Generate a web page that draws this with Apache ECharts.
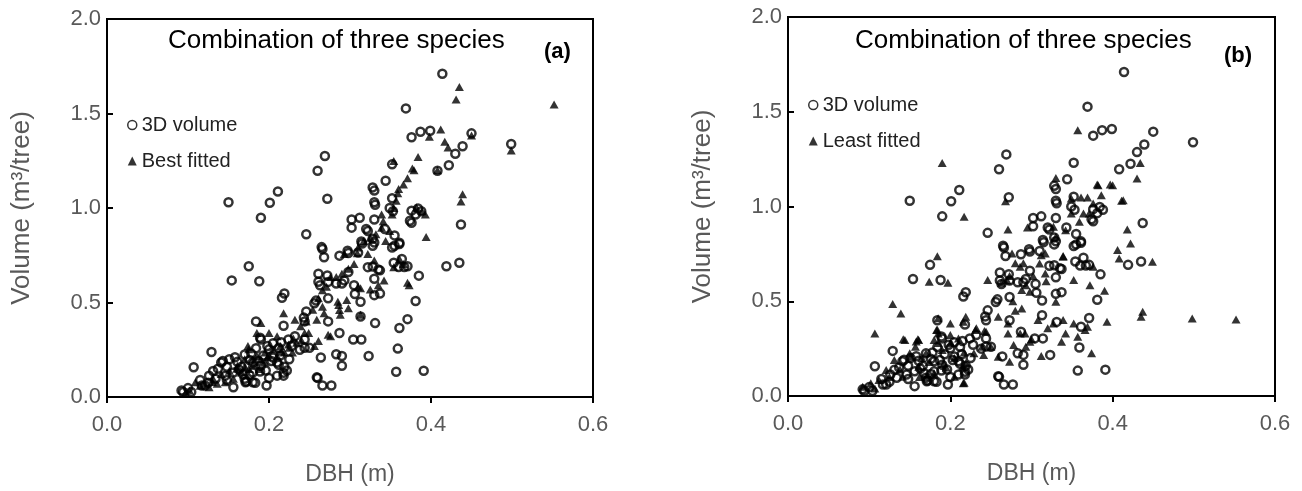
<!DOCTYPE html>
<html>
<head>
<meta charset="utf-8">
<script src="https://cdn.jsdelivr.net/npm/echarts@6/dist/echarts.min.js"></script>
<style>
  html, body { margin: 0; padding: 0; background: #fff; }
  #chart { width: 1302px; height: 491px; }
</style>
</head>
<body>
<div id="chart"></div>
<script>
// [DBH (m), volume (m3/tree)]
const volume3D = [
    [0.414, 1.71], [0.369, 1.527], [0.399, 1.409], [0.387, 1.403], [0.376, 1.374], [0.45, 1.395],
    [0.439, 1.327], [0.43, 1.287], [0.422, 1.226], [0.499, 1.339], [0.408, 1.197], [0.269, 1.275],
    [0.26, 1.197], [0.352, 1.231], [0.344, 1.144], [0.33, 1.092], [0.331, 1.017], [0.352, 1.052],
    [0.353, 0.983], [0.211, 1.087], [0.201, 1.028], [0.15, 1.03], [0.19, 0.948], [0.272, 1.049],
    [0.246, 0.861], [0.302, 0.939], [0.312, 0.948], [0.302, 0.896], [0.33, 0.939], [0.322, 0.878],
    [0.315, 0.812], [0.33, 0.817], [0.437, 0.913], [0.381, 0.965], [0.376, 0.922], [0.388, 0.983],
    [0.361, 0.809], [0.352, 0.791], [0.266, 0.783], [0.268, 0.739], [0.287, 0.748], [0.298, 0.762],
    [0.31, 0.765], [0.175, 0.692], [0.154, 0.617], [0.188, 0.612], [0.435, 0.71], [0.419, 0.692],
    [0.354, 0.71], [0.371, 0.692], [0.364, 0.73], [0.385, 0.642], [0.381, 0.508], [0.371, 0.412],
    [0.361, 0.365], [0.359, 0.256], [0.357, 0.134], [0.391, 0.139], [0.331, 0.391], [0.323, 0.217],
    [0.314, 0.304], [0.313, 0.504], [0.313, 0.426], [0.33, 0.626], [0.337, 0.67], [0.33, 0.539],
    [0.337, 0.548], [0.322, 0.687], [0.298, 0.661], [0.305, 0.591], [0.293, 0.617], [0.283, 0.6],
    [0.273, 0.609], [0.261, 0.652], [0.272, 0.643], [0.273, 0.522], [0.263, 0.591], [0.256, 0.496],
    [0.246, 0.452], [0.244, 0.4], [0.287, 0.339], [0.29, 0.217], [0.29, 0.165], [0.283, 0.226],
    [0.264, 0.209], [0.26, 0.101], [0.266, 0.061], [0.277, 0.061], [0.304, 0.304], [0.244, 0.261],
    [0.219, 0.548], [0.216, 0.525], [0.184, 0.4], [0.218, 0.377], [0.19, 0.304], [0.129, 0.238],
    [0.107, 0.157], [0.094, 0.026], [0.104, 0.026], [0.117, 0.061], [0.126, 0.113], [0.141, 0.183],
    [0.151, 0.2], [0.161, 0.186], [0.156, 0.052], [0.17, 0.096], [0.18, 0.078], [0.197, 0.061],
    [0.21, 0.113], [0.218, 0.113], [0.19, 0.165], [0.18, 0.183], [0.21, 0.183], [0.232, 0.322],
    [0.244, 0.304], [0.146, 0.113], [0.134, 0.096], [0.156, 0.13], [0.2, 0.252], [0.205, 0.209],
    [0.224, 0.304], [0.189, 0.314], [0.184, 0.258], [0.143, 0.191], [0.176, 0.196], [0.219, 0.16],
    [0.243, 0.42], [0.25, 0.26], [0.259, 0.104], [0.189, 0.135], [0.176, 0.116], [0.172, 0.082],
    [0.148, 0.09], [0.131, 0.138], [0.121, 0.061], [0.1, 0.047], [0.092, 0.035], [0.212, 0.26],
    [0.212, 0.17], [0.228, 0.27], [0.238, 0.25], [0.349, 1.0], [0.376, 0.986], [0.384, 0.998],
    [0.374, 0.933], [0.32, 0.889], [0.314, 0.823], [0.328, 0.837], [0.343, 0.889], [0.355, 0.855],
    [0.361, 0.816], [0.355, 0.8], [0.265, 0.793], [0.297, 0.774], [0.328, 0.8], [0.367, 0.688],
    [0.36, 0.688], [0.328, 0.69], [0.328, 1.109], [0.33, 1.03], [0.306, 0.545], [0.29, 0.6],
    [0.261, 0.61], [0.258, 0.51], [0.273, 0.4], [0.183, 0.075], [0.18, 0.13], [0.205, 0.284],
    [0.335, 0.674], [0.17, 0.225], [0.166, 0.16], [0.196, 0.14], [0.203, 0.19], [0.225, 0.2],
    [0.193, 0.22], [0.218, 0.128], [0.171, 0.078], [0.163, 0.145], [0.158, 0.21], [0.198, 0.27],
    [0.214, 0.22], [0.178, 0.23], [0.168, 0.12], [0.2, 0.1], [0.187, 0.19], [0.222, 0.14],
    [0.215, 0.29], [0.148, 0.16], [0.137, 0.15], [0.115, 0.09], [0.125, 0.075]
];

const bestFitted = [
    [0.552, 1.548], [0.435, 1.64], [0.431, 1.574], [0.412, 1.416], [0.398, 1.377], [0.417, 1.351],
    [0.421, 1.32], [0.45, 1.383], [0.499, 1.304], [0.384, 1.27], [0.354, 1.249], [0.379, 1.2],
    [0.371, 1.157], [0.366, 1.125], [0.36, 1.1], [0.359, 1.078], [0.357, 1.038], [0.352, 0.965],
    [0.354, 1.0], [0.439, 1.073], [0.437, 1.035], [0.382, 1.004], [0.389, 0.983], [0.393, 0.965],
    [0.394, 0.847], [0.373, 0.591], [0.366, 0.704], [0.354, 0.687], [0.342, 0.617], [0.335, 0.591],
    [0.325, 0.569], [0.31, 0.583], [0.31, 0.791], [0.322, 0.757], [0.339, 0.965], [0.339, 0.896],
    [0.332, 0.861], [0.325, 0.843], [0.341, 0.93], [0.305, 0.704], [0.298, 0.678], [0.29, 0.652],
    [0.283, 0.635], [0.276, 0.635], [0.271, 0.583], [0.266, 0.565], [0.261, 0.522], [0.266, 0.478],
    [0.268, 0.443], [0.286, 0.487], [0.298, 0.47], [0.288, 0.435], [0.313, 0.435], [0.276, 0.322],
    [0.261, 0.296], [0.244, 0.339], [0.246, 0.4], [0.259, 0.409], [0.254, 0.461], [0.218, 0.443],
    [0.19, 0.391], [0.234, 0.287], [0.224, 0.278], [0.214, 0.27], [0.205, 0.252], [0.195, 0.235],
    [0.185, 0.217], [0.175, 0.252], [0.17, 0.2], [0.161, 0.165], [0.151, 0.139], [0.141, 0.122],
    [0.131, 0.096], [0.121, 0.07], [0.109, 0.078], [0.102, 0.035], [0.097, 0.023], [0.185, 0.339],
    [0.2, 0.339], [0.21, 0.322], [0.219, 0.235], [0.229, 0.235], [0.21, 0.217], [0.195, 0.183],
    [0.188, 0.148], [0.175, 0.148], [0.166, 0.13], [0.156, 0.096], [0.146, 0.078], [0.136, 0.07],
    [0.126, 0.052], [0.232, 0.409], [0.239, 0.374], [0.249, 0.339], [0.256, 0.27], [0.296, 0.513],
    [0.33, 0.722], [0.344, 0.826], [0.349, 0.878], [0.317, 0.826], [0.293, 0.757], [0.371, 0.605],
    [0.361, 0.73], [0.313, 0.575], [0.273, 0.33], [0.23, 0.31], [0.174, 0.27], [0.287, 0.46],
    [0.309, 0.76], [0.285, 0.504], [0.408, 1.2], [0.377, 1.209], [0.18, 0.2], [0.19, 0.2],
    [0.2, 0.22], [0.16, 0.15], [0.17, 0.16], [0.215, 0.24], [0.225, 0.26], [0.24, 0.3],
    [0.115, 0.06], [0.13, 0.08], [0.18, 0.17], [0.198, 0.21]
];

const leastFitted = [
    [0.357, 1.402], [0.19, 1.23], [0.434, 1.23], [0.43, 1.148], [0.4, 1.112], [0.382, 1.112],
    [0.386, 1.06], [0.413, 1.033], [0.349, 1.042], [0.361, 1.047], [0.369, 1.047], [0.376, 1.016],
    [0.371, 0.963], [0.364, 0.963], [0.349, 0.963], [0.268, 1.028], [0.217, 0.946], [0.271, 0.879],
    [0.295, 0.889], [0.418, 0.879], [0.408, 0.726], [0.422, 0.805], [0.449, 0.708], [0.327, 0.893],
    [0.33, 0.84], [0.342, 0.875], [0.339, 0.735], [0.312, 0.743], [0.184, 0.738], [0.174, 0.603],
    [0.197, 0.598], [0.246, 0.612], [0.263, 0.598], [0.273, 0.633], [0.286, 0.682], [0.302, 0.633],
    [0.317, 0.647], [0.352, 0.612], [0.372, 0.585], [0.39, 0.555], [0.376, 0.682], [0.298, 0.55],
    [0.293, 0.585], [0.33, 0.497], [0.129, 0.485], [0.139, 0.436], [0.107, 0.33], [0.144, 0.295],
    [0.161, 0.295], [0.157, 0.26], [0.185, 0.41], [0.2, 0.383], [0.216, 0.392], [0.219, 0.418],
    [0.232, 0.357], [0.244, 0.339], [0.241, 0.216], [0.25, 0.26], [0.271, 0.383], [0.271, 0.33],
    [0.278, 0.269], [0.273, 0.181], [0.259, 0.207], [0.298, 0.286], [0.286, 0.33], [0.312, 0.211],
    [0.32, 0.357], [0.327, 0.383], [0.339, 0.401], [0.337, 0.286], [0.342, 0.33], [0.352, 0.383],
    [0.374, 0.225], [0.369, 0.366], [0.393, 0.392], [0.437, 0.445], [0.435, 0.418], [0.498, 0.409],
    [0.552, 0.404], [0.21, 0.304], [0.2, 0.322], [0.219, 0.172], [0.216, 0.067], [0.192, 0.172],
    [0.18, 0.295], [0.19, 0.243], [0.17, 0.225], [0.151, 0.207], [0.131, 0.19], [0.121, 0.137],
    [0.112, 0.084], [0.102, 0.067], [0.092, 0.049], [0.107, 0.04], [0.161, 0.155], [0.18, 0.12],
    [0.205, 0.102], [0.215, 0.155], [0.229, 0.225], [0.239, 0.26], [0.141, 0.102], [0.17, 0.102],
    [0.185, 0.33], [0.293, 0.26], [0.308, 0.401], [0.357, 0.313], [0.366, 0.348], [0.31, 0.699],
    [0.317, 0.752], [0.276, 0.752], [0.288, 0.559], [0.259, 0.418], [0.288, 0.462], [0.33, 1.15],
    [0.381, 1.116], [0.397, 1.116], [0.411, 1.031], [0.359, 0.92], [0.406, 0.77], [0.339, 0.739],
    [0.318, 0.605], [0.142, 0.3], [0.158, 0.287], [0.183, 0.348], [0.231, 0.348], [0.242, 0.343],
    [0.29, 0.7], [0.28, 0.7], [0.27, 0.61], [0.277, 0.5], [0.28, 0.45], [0.292, 0.33],
    [0.3, 0.3], [0.185, 0.28], [0.16, 0.3], [0.184, 0.35], [0.217, 0.23], [0.15, 0.225],
    [0.174, 0.18], [0.162, 0.1], [0.217, 0.07], [0.195, 0.15], [0.205, 0.2], [0.165, 0.2],
    [0.2, 0.28], [0.138, 0.14], [0.125, 0.1]
];

const panelTitle = 'Combination of three species';
const panelTags = ['(a)', '(b)'];
const fittedNames = ['Best fitted', 'Least fitted'];

const font = 'Liberation Sans, Arial, sans-serif';
const grey = '#595959';

const chart = echarts.init(document.getElementById('chart'));

// pixel layout of the two panels
const panels = [
    { left: 107, top: 19, width: 486, height: 380, titleX: 168, tagX: 544, tagY: 41, legendX: 127, legendY: 115 },
    { left: 788, top: 17, width: 487, height: 379, titleX: 855, tagX: 1224, tagY: 45, legendX: 808, legendY: 95 }
];

function xAxisFor(i) {
    return {
        type: 'value', gridIndex: i, min: 0, max: 0.6, interval: 0.2,
        axisLine: { show: true, onZero: false, lineStyle: { color: '#000', width: 2 } },
        axisTick: { show: true, length: 6, lineStyle: { color: '#000', width: 2 } },
        axisLabel: {
            margin: 17, fontSize: 22, color: grey, fontFamily: font,
            formatter: v => v.toFixed(1)
        },
        splitLine: { show: false },
        name: 'DBH (m)', nameLocation: 'middle', nameGap: 66,
        nameTextStyle: { fontSize: 23, color: grey, fontFamily: font }
    };
}

function yAxisFor(i) {
    return {
        type: 'value', gridIndex: i, min: 0, max: 2, interval: 0.5,
        axisLine: { show: true, onZero: false, lineStyle: { color: '#000', width: 2 } },
        axisTick: { show: true, inside: true, length: 6, lineStyle: { color: '#000', width: 2 } },
        axisLabel: {
            margin: 6, fontSize: 22, color: grey, fontFamily: font,
            formatter: v => v.toFixed(1)
        },
        splitLine: { show: false },
        name: 'Volume (m³/tree)', nameLocation: 'middle', nameGap: 72,
        nameTextStyle: { fontSize: 26, color: grey, fontFamily: font }
    };
}

const circleStyle = { color: 'rgba(0,0,0,0)', borderColor: '#000', borderWidth: 2.5 };
const triangleStyle = { color: '#000' };

const option = {
    animation: false,
    backgroundColor: '#fff',
    title: panels.flatMap((p, i) => [
        {
            text: panelTitle, left: p.titleX, top: 28, padding: 0,
            textStyle: { fontSize: 26, fontWeight: 'normal', color: '#000', fontFamily: font }
        },
        {
            text: panelTags[i], left: p.tagX, top: p.tagY, padding: 0,
            textStyle: { fontSize: 22, fontWeight: 'bold', color: '#000', fontFamily: font }
        }
    ]),
    legend: panels.map((p, i) => ({
        orient: 'vertical', left: p.legendX, top: p.legendY, padding: 0,
        itemWidth: 9, itemHeight: 9, itemGap: 16,
        data: ['3D volume', fittedNames[i]],
        itemStyle: { borderWidth: 1.5 },
        textStyle: { fontSize: 20, color: '#222', fontFamily: font }
    })),
    grid: panels.map(p => ({
        left: p.left, top: p.top, width: p.width, height: p.height,
        show: true, borderColor: '#000', borderWidth: 2, containLabel: false
    })),
    xAxis: [xAxisFor(0), xAxisFor(1)],
    yAxis: [yAxisFor(0), yAxisFor(1)],
    series: [
        { name: '3D volume', type: 'scatter', xAxisIndex: 0, yAxisIndex: 0, symbol: 'circle', symbolSize: 8, itemStyle: circleStyle, data: volume3D },
        { name: 'Best fitted', type: 'scatter', xAxisIndex: 0, yAxisIndex: 0, symbol: 'triangle', symbolSize: [9, 8], itemStyle: triangleStyle, data: bestFitted },
        { name: '3D volume', type: 'scatter', xAxisIndex: 1, yAxisIndex: 1, symbol: 'circle', symbolSize: 8, itemStyle: circleStyle, data: volume3D },
        { name: 'Least fitted', type: 'scatter', xAxisIndex: 1, yAxisIndex: 1, symbol: 'triangle', symbolSize: [9, 8], itemStyle: triangleStyle, data: leastFitted }
    ]
};

chart.setOption(option);

window.addEventListener('resize', () => {
    chart.resize();
});
</script>
</body>
</html>
